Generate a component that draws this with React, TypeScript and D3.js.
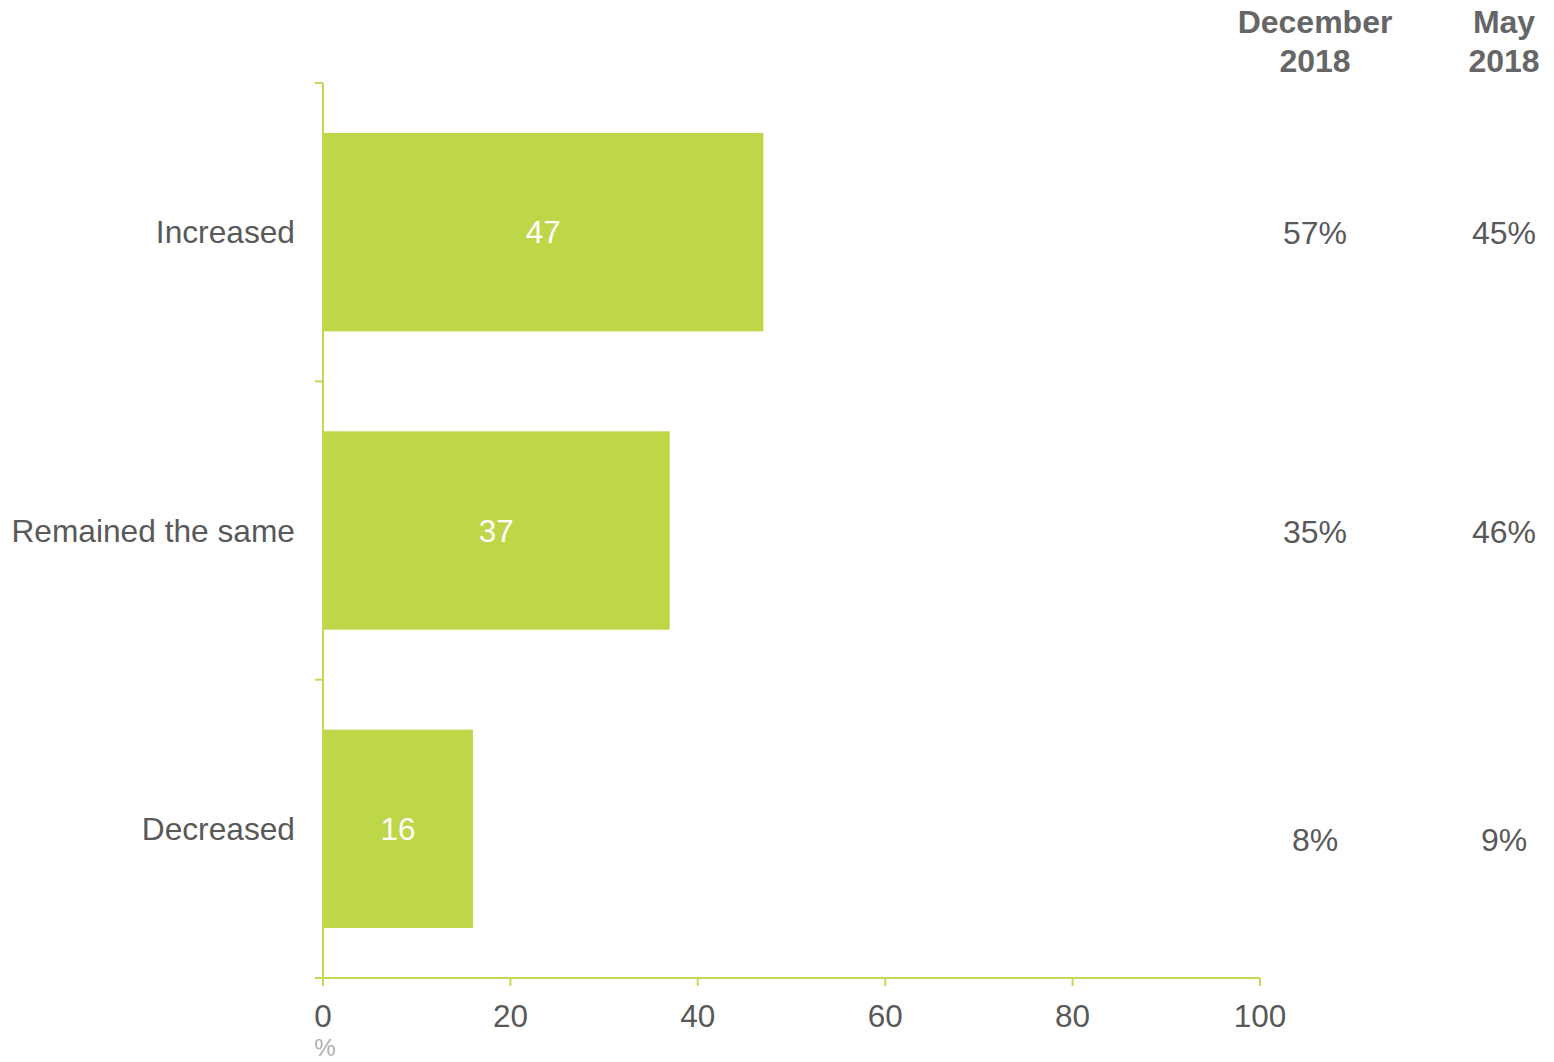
import React from "react";
import * as d3 from "d3";

const categories = ["Increased", "Remained the same", "Decreased"];
const values = [47, 37, 16];
const xTicks = [0, 20, 40, 60, 80, 100];
const compHeaders = [["December", "2018"], ["May", "2018"]];
const december2018 = ["57%", "35%", "8%"];
const may2018 = ["45%", "46%", "9%"];

const W = 1554;
const H = 1062;
const left = 323;
const right = 1260;
const top = 83;
const bottom = 978;
const barColor = "#BDD749";
const axisColor = "#C3DA55";
const textColor = "#595959";
const font = "'Liberation Sans', Arial, sans-serif";

export default function App() {
  const x = d3.scaleLinear().domain([0, 100]).range([left, right]);
  const y = d3.scaleBand<string>().domain(categories).range([top, bottom]).paddingInner(0.335).paddingOuter(0.1675);
  const step = y.step();
  const bandEdges = categories.map((_, i) => top + i * step).concat([bottom]);
  const colX = [1315, 1504];
  const rowYOffset = [0, 0, 10];
  return (
    <svg width={W} height={H} style={{ position: "absolute", left: 0, top: 0, background: "#fff" }} fontFamily={font}>
      {categories.map((c, i) => (
        <g key={c}>
          <rect x={x(0)} y={y(c)} width={x(values[i]) - x(0)} height={y.bandwidth()} fill={barColor} />
          <text x={(x(0) + x(values[i])) / 2} y={(y(c) as number) + y.bandwidth() / 2 + 11} textAnchor="middle" fill="#fff" fontSize={31.5}>
            {values[i]}
          </text>
          <text x={295} y={(y(c) as number) + y.bandwidth() / 2 + 11} textAnchor="end" fill={textColor} fontSize={31.7}>
            {c}
          </text>
          <text x={colX[0]} y={(y(c) as number) + y.bandwidth() / 2 + 12 + rowYOffset[i]} textAnchor="middle" fill={textColor} fontSize={32}>
            {december2018[i]}
          </text>
          <text x={colX[1]} y={(y(c) as number) + y.bandwidth() / 2 + 12 + rowYOffset[i]} textAnchor="middle" fill={textColor} fontSize={32}>
            {may2018[i]}
          </text>
        </g>
      ))}
      {/* y axis */}
      <line x1={left} x2={left} y1={top} y2={bottom} stroke={axisColor} strokeWidth={2} />
      {bandEdges.map((e, i) => (
        <line key={i} x1={left - 8} x2={left} y1={e} y2={e} stroke={axisColor} strokeWidth={2} />
      ))}
      {/* x axis */}
      <line x1={left} x2={right} y1={bottom} y2={bottom} stroke={axisColor} strokeWidth={2} />
      {xTicks.map((t) => (
        <g key={t}>
          <line x1={x(t)} x2={x(t)} y1={bottom} y2={bottom + 8} stroke={axisColor} strokeWidth={2} />
          <text x={x(t)} y={bottom + 49} textAnchor="middle" fill={textColor} fontSize={31.5}>
            {t}
          </text>
        </g>
      ))}
      <text x={x(0) + 2} y={1056} textAnchor="middle" fill="#B0B0B0" fontSize={24}>%</text>
      {compHeaders.map((h, i) => (
        <text key={i} x={colX[i]} textAnchor="middle" fill="#666" fontSize={32} fontWeight="bold">
          <tspan x={colX[i]} y={33}>{h[0]}</tspan>
          <tspan x={colX[i]} y={72}>{h[1]}</tspan>
        </text>
      ))}
    </svg>
  );
}
